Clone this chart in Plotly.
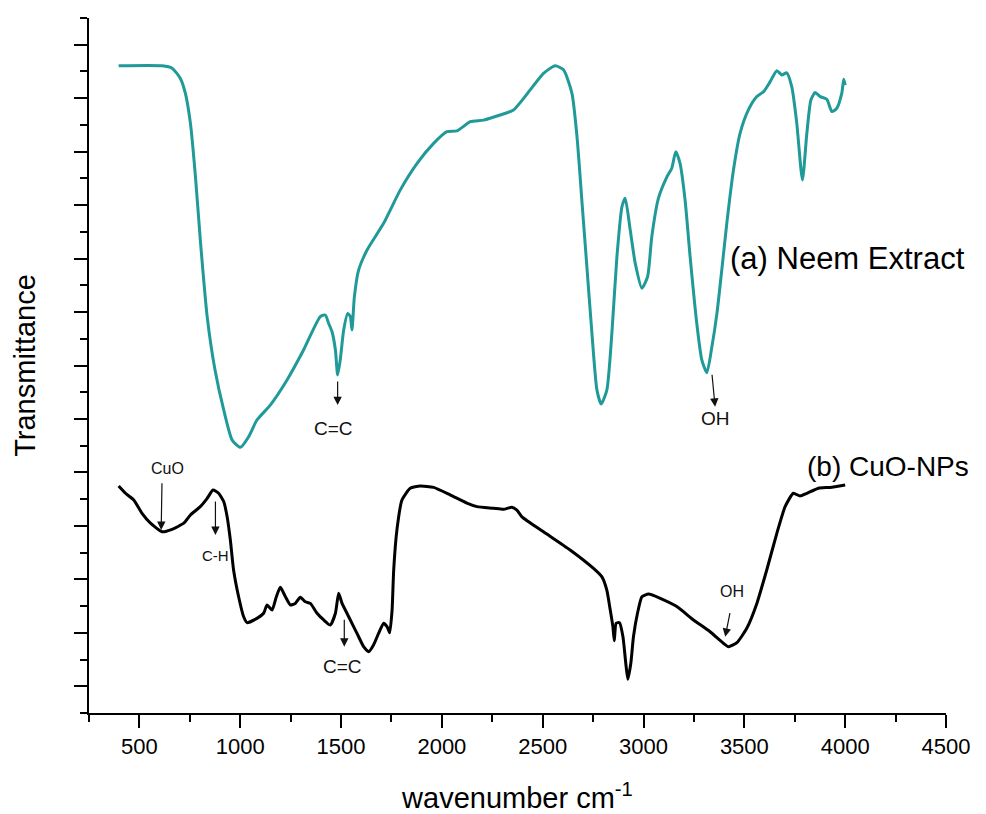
import plotly.graph_objects as go

# ---- data ----
neem_wavenumber = [397, 612, 662, 703, 728, 753, 778, 802, 836, 875, 918, 960, 1001, 1042, 1083, 1149,
                   1232, 1314, 1397, 1422, 1438, 1455, 1472, 1483, 1496, 1513, 1533, 1546, 1554, 1566,
                   1587, 1629, 1711, 1794, 1877, 1959, 2025, 2075, 2141, 2207, 2289, 2355, 2438, 2504,
                   2562, 2603, 2645, 2670, 2694, 2719, 2744, 2769, 2790, 2818, 2843, 2868, 2893, 2909,
                   2934, 2959, 2992, 3020, 3041, 3074, 3116, 3140, 3160, 3181, 3206, 3231, 3264, 3289,
                   3314, 3339, 3364, 3388, 3413, 3446, 3479, 3520, 3562, 3595, 3628, 3661, 3686, 3710,
                   3735, 3760, 3788, 3810, 3830, 3851, 3876, 3909, 3934, 3958, 3983, 3993, 4000]
neem_transmittance = [24.21, 24.21, 24.12, 23.74, 23.18, 22.06, 20.06, 17.70, 14.83, 12.83, 11.34, 10.21,
                      9.94, 10.34, 10.96, 11.52, 12.46, 13.58, 14.83, 14.89, 14.58, 14.27, 13.58, 12.65,
                      13.21, 14.33, 14.95, 14.83, 14.33, 15.57, 16.57, 17.32, 18.32, 19.57, 20.56, 21.31,
                      21.75, 21.78, 22.12, 22.18, 22.37, 22.56, 23.31, 23.93, 24.21, 24.06, 23.18, 21.56,
                      19.19, 16.70, 14.21, 12.08, 11.56, 12.08, 14.21, 17.07, 18.94, 19.26, 18.07, 16.82,
                      15.89, 16.32, 17.82, 19.26, 20.06, 20.38, 21.00, 20.56, 19.19, 17.07, 14.58, 13.21,
                      12.73, 13.70, 14.95, 16.57, 18.32, 20.31, 21.69, 22.56, 23.06, 23.24, 23.62, 24.03,
                      23.87, 23.95, 23.43, 22.06, 19.94, 21.69, 22.93, 23.21, 23.06, 22.96, 22.50, 22.62,
                      23.18, 23.71, 23.49]

cuo_wavenumber = [397, 431, 472, 513, 555, 612, 662, 720, 753, 802, 836, 865, 893, 918, 935, 951, 967,
                  992, 1017, 1034, 1083, 1116, 1133, 1158, 1179, 1199, 1224, 1249, 1273, 1298, 1323,
                  1348, 1381, 1414, 1447, 1472, 1488, 1505, 1538, 1579, 1612, 1637, 1661, 1686, 1711,
                  1728, 1741, 1753, 1761, 1777, 1802, 1843, 1893, 1959, 2041, 2124, 2174, 2256, 2306,
                  2347, 2372, 2397, 2504, 2636, 2752, 2793, 2818, 2835, 2848, 2855, 2864, 2881, 2898,
                  2912, 2922, 2937, 2950, 2970, 2992, 3025, 3083, 3165, 3248, 3330, 3396, 3421, 3463,
                  3512, 3562, 3611, 3661, 3702, 3743, 3776, 3810, 3867, 3925, 4000]
cuo_transmittance = [8.49, 8.22, 7.97, 7.47, 7.10, 6.78, 6.87, 7.10, 7.41, 7.72, 8.03, 8.34, 8.22, 7.91,
                     7.34, 6.47, 5.35, 4.35, 3.60, 3.38, 3.54, 3.73, 4.04, 3.85, 4.35, 4.70, 4.35, 4.04,
                     4.10, 4.33, 4.16, 4.10, 3.73, 3.48, 3.29, 3.73, 4.48, 4.10, 3.60, 2.98, 2.48, 2.29,
                     2.54, 2.98, 3.36, 3.23, 3.00, 3.85, 5.35, 6.85, 7.97, 8.41, 8.49, 8.44, 8.16, 7.85,
                     7.72, 7.66, 7.62, 7.70, 7.59, 7.34, 6.78, 6.10, 5.41, 5.10, 4.60, 3.85, 3.23, 2.70,
                     3.36, 3.38, 2.85, 1.86, 1.26, 1.86, 2.85, 3.73, 4.35, 4.45, 4.29, 3.98, 3.48, 3.04,
                     2.61, 2.48, 2.63, 3.17, 4.10, 5.35, 6.72, 7.72, 8.22, 8.12, 8.22, 8.41, 8.44, 8.53]

# band labels: text, text position, arrow tail, arrow tip, font size
band_labels = [
    ("C=C", (1463, 10.65), (1483, 12.46), (1483, 11.52), 19),
    ("OH", (3355, 11.03), (3339, 12.71), (3355, 11.46), 19),
    ("CuO", (637, 9.15), (612, 8.65), (608, 6.85), 16),
    ("C-H", (877, 5.91), (877, 7.97), (877, 6.66), 15),
    ("C=C", (1505, 1.73), (1516, 3.54), (1516, 2.48), 19),
    ("OH", (3438, 4.54), (3430, 3.79), (3405, 2.85), 16),
]
series_labels = [("(a) Neem Extract", (3420, 17.02), 31), ("(b) CuO-NPs", (3801, 9.24), 28)]

FONT = "Liberation Sans, Arial, sans-serif"

fig = go.Figure()
fig.add_trace(go.Scatter(x=neem_wavenumber, y=neem_transmittance, mode="lines",
                         line=dict(color="#1f9a98", width=3, shape="spline", smoothing=0.6),
                         name="(a) Neem Extract", showlegend=False))
fig.add_trace(go.Scatter(x=cuo_wavenumber, y=cuo_transmittance, mode="lines",
                         line=dict(color="#000000", width=3, shape="spline", smoothing=0.5),
                         name="(b) CuO-NPs", showlegend=False))

for text, (tx, ty), (ax, ay), (hx, hy), fs in band_labels:
    fig.add_annotation(x=tx, y=ty, text=text, showarrow=False,
                       font=dict(family=FONT, size=fs, color="#111111"))
    fig.add_annotation(x=hx, y=hy, ax=ax, ay=ay, axref="x", ayref="y", text="",
                       showarrow=True, arrowhead=2, arrowsize=1.4, arrowwidth=1.2,
                       arrowcolor="#111111", standoff=0, startstandoff=0)

for text, (tx, ty), fs in series_labels:
    fig.add_annotation(x=tx, y=ty, text=text, showarrow=False, xanchor="left",
                       font=dict(family=FONT, size=fs, color="#000000"))

fig.update_layout(
    width=986, height=814,
    margin=dict(l=89, r=40, t=18, b=101),
    paper_bgcolor="white", plot_bgcolor="white",
    font=dict(family=FONT, color="black"),
)
fig.update_xaxes(
    range=[250, 4500], tick0=500, dtick=500, automargin=False,
    showline=True, linecolor="black", linewidth=2,
    ticks="outside", ticklen=13, tickwidth=2, tickcolor="black",
    minor=dict(ticks="outside", ticklen=7, tickwidth=2, tickcolor="black", dtick=250, tick0=250),
    tickfont=dict(family=FONT, size=22, color="black"),
    showgrid=False, zeroline=False,
    title=dict(text="wavenumber cm<sup>-1</sup>", font=dict(family=FONT, size=29), standoff=32),
)
fig.update_yaxes(
    range=[0, 26], tick0=1, dtick=2, automargin=False,
    showline=True, linecolor="black", linewidth=2,
    ticks="outside", ticklen=13, tickwidth=2, tickcolor="black",
    minor=dict(ticks="outside", ticklen=7, tickwidth=2, tickcolor="black", dtick=1, tick0=0),
    showticklabels=False, showgrid=False, zeroline=False,
    title=dict(text="Transmittance", font=dict(family=FONT, size=29), standoff=30),
)

fig.write_html("out.html")
